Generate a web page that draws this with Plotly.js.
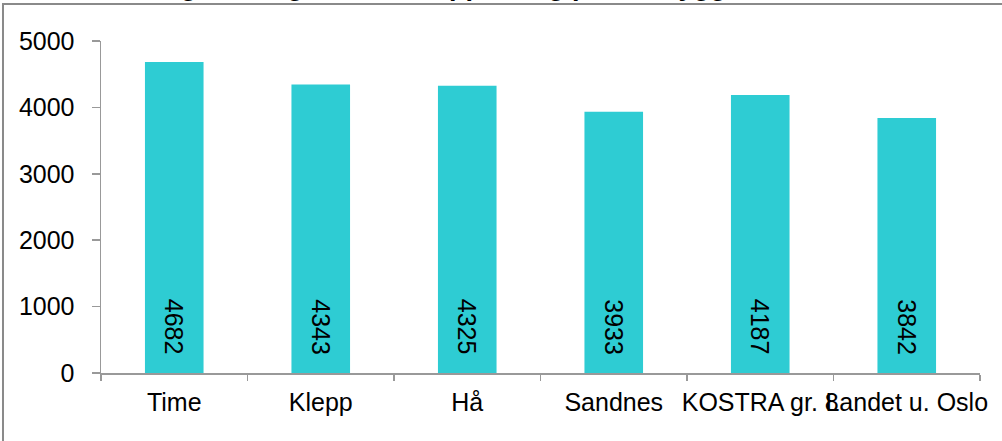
<!DOCTYPE html>
<html>
<head>
<meta charset="utf-8">
<script src="https://cdn.plot.ly/plotly-3.0.1.min.js"></script>
<style>html,body{margin:0;padding:0;background:#fff;}#chart{width:1002px;height:441px;}</style>
</head>
<body>
<div id="chart"></div>
<script>
const categories = ["Time", "Klepp", "Hå", "Sandnes", "KOSTRA gr. 8", "Landet u. Oslo"];
const values = [4682, 4343, 4325, 3933, 4187, 3842];
const yTicks = [0, 1000, 2000, 3000, 4000, 5000];
const titleText = "Netto driftsutgifter til grunnskoleopplæring per innbygger, kroner";

const font = "Liberation Sans, Arial, sans-serif";
const trace = {
  type: "bar",
  x: categories,
  y: values,
  width: 0.4,
  marker: {color: "#2ECCD3"},
  hoverinfo: "x+y"
};
const valueLabels = categories.map((c, i) => ({
  x: c, y: 0, xref: "x", yref: "y", text: String(values[i]),
  showarrow: false, textangle: 90, yanchor: "bottom", xanchor: "center", yshift: 16,
  font: {family: font, size: 25, color: "#000"}
}));
const titleAnn = {
  text: "<b>" + titleText + "</b>", xref: "paper", yref: "paper", x: -0.105, y: 1.1115,
  xanchor: "left", yanchor: "bottom", showarrow: false, yshift: 1,
  font: {family: font, size: 27, color: "#000"}
};
const layout = {
  width: 1002, height: 441,
  margin: {l: 101, r: 22, t: 41, b: 68},
  paper_bgcolor: "#fff", plot_bgcolor: "#fff",
  showlegend: false,
  font: {family: font, size: 25, color: "#000"},
  xaxis: {type: "category", showline: true, linecolor: "#999", linewidth: 1.5,
          ticks: "outside", tickson: "boundaries", ticklen: 6, tickcolor: "#999", tickwidth: 1.5,
          tickangle: 0, showgrid: false, zeroline: false, ticklabelstandoff: 6,
          tickfont: {family: font, size: 25, color: "#000"}},
  yaxis: {range: [0, 5000], tickvals: yTicks, showline: true, linecolor: "#999", linewidth: 1.5,
          ticks: "outside", ticklen: 8, tickcolor: "#999", tickwidth: 1.5, showgrid: false, zeroline: false,
          ticklabelstandoff: 12, tickfont: {family: font, size: 25, color: "#000"}},
  annotations: [titleAnn].concat(valueLabels),
  shapes: [{type: "rect", xref: "paper", yref: "paper", x0: -0.1115, x1: 1.2, y0: -0.5, y1: 1.1115,
            line: {color: "#8a8a8a", width: 2}, fillcolor: "rgba(0,0,0,0)", layer: "above"}]
};
Plotly.newPlot("chart", [trace], layout, {displayModeBar: false, staticPlot: true});
</script>
</body>
</html>
